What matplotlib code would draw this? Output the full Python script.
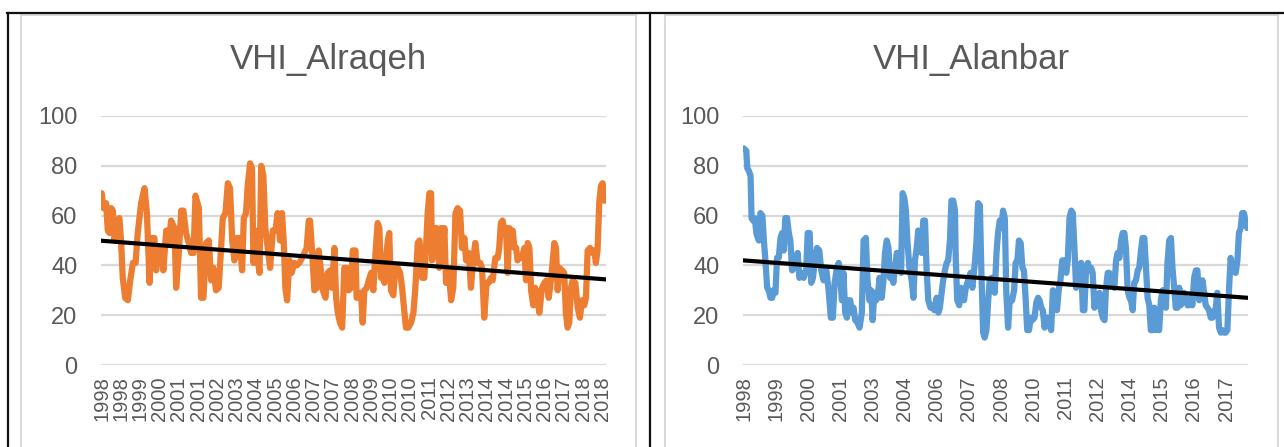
import numpy as np
import matplotlib
matplotlib.use('Agg')
import matplotlib.pyplot as plt
from matplotlib.lines import Line2D

# VHI_Alraqeh: observation time (decimal year) and index value
t_alraqeh = [1998.01, 1998.08, 1998.19, 1998.26, 1998.33, 1998.40, 1998.47, 1998.54, 1998.68, 1998.74,
             1998.81, 1998.88, 1998.98, 1999.09, 1999.19, 1999.30, 1999.41, 1999.50, 1999.64, 1999.78,
             1999.88, 1999.99, 2000.05, 2000.19, 2000.26, 2000.37, 2000.47, 2000.56, 2000.68, 2000.79,
             2000.88, 2001.02, 2001.09, 2001.20, 2001.30, 2001.39, 2001.50, 2001.61, 2001.71, 2001.81,
             2001.89, 2002.03, 2002.12, 2002.22, 2002.33, 2002.44, 2002.54, 2002.63, 2002.74, 2002.85,
             2002.95, 2003.02, 2003.13, 2003.23, 2003.32, 2003.41, 2003.50, 2003.60, 2003.71, 2003.82,
             2003.89, 2003.98, 2004.05, 2004.15, 2004.23, 2004.29, 2004.37, 2004.47, 2004.54, 2004.61,
             2004.70, 2004.78, 2004.88, 2004.98, 2005.09, 2005.20, 2005.29, 2005.39, 2005.47, 2005.54,
             2005.61, 2005.68, 2005.78, 2005.87, 2005.98, 2006.08, 2006.19, 2006.30, 2006.40, 2006.49,
             2006.58, 2006.63, 2006.72, 2006.81, 2006.91, 2006.99, 2007.09, 2007.16, 2007.27, 2007.36,
             2007.46, 2007.54, 2007.64, 2007.71, 2007.78, 2007.87, 2007.96, 2008.05, 2008.15, 2008.23,
             2008.33, 2008.40, 2008.51, 2008.56, 2008.67, 2008.74, 2008.81, 2008.88, 2008.98, 2009.06,
             2009.16, 2009.25, 2009.34, 2009.43, 2009.50, 2009.57, 2009.64, 2009.71, 2009.78, 2009.85,
             2009.91, 2009.98, 2010.08, 2010.16, 2010.26, 2010.36, 2010.44, 2010.54, 2010.60, 2010.70,
             2010.81, 2010.91, 2010.99, 2011.09, 2011.16, 2011.27, 2011.36, 2011.43, 2011.50, 2011.57,
             2011.64, 2011.68, 2011.78, 2011.87, 2011.98, 2012.05, 2012.12, 2012.19, 2012.26, 2012.37,
             2012.47, 2012.56, 2012.65, 2012.74, 2012.84, 2012.92, 2013.02, 2013.09, 2013.20, 2013.29,
             2013.39, 2013.47, 2013.57, 2013.67, 2013.75, 2013.84, 2013.94, 2014.02, 2014.12, 2014.19,
             2014.30, 2014.40, 2014.46, 2014.53, 2014.60, 2014.67, 2014.74, 2014.81, 2014.88, 2014.95,
             2015.02, 2015.09, 2015.16, 2015.22, 2015.29, 2015.40, 2015.50, 2015.57, 2015.64, 2015.71,
             2015.78, 2015.87, 2015.95, 2016.05, 2016.12, 2016.23, 2016.33, 2016.42, 2016.51, 2016.60,
             2016.67, 2016.74, 2016.81, 2016.88, 2016.95, 2017.06, 2017.15, 2017.22, 2017.29, 2017.36,
             2017.43, 2017.50, 2017.61, 2017.71, 2017.80, 2017.89, 2017.98, 2018.05, 2018.12, 2018.22,
             2018.33, 2018.40, 2018.46, 2018.53, 2018.60, 2018.67, 2018.74, 2018.81, 2018.85]
vhi_alraqeh = [69, 63, 65, 54, 53, 63, 62, 50, 58, 59,
               50, 35, 27, 26, 34, 41, 41, 53, 65, 71,
               61, 33, 51, 51, 38, 46, 47, 38, 54, 49,
               58, 55, 31, 45, 62, 62, 53, 49, 45, 45,
               68, 63, 27, 27, 49, 50, 34, 39, 30, 31,
               47, 59, 61, 73, 71, 50, 42, 51, 51, 38,
               59, 61, 72, 81, 79, 41, 54, 42, 37, 80,
               76, 55, 47, 39, 54, 54, 61, 50, 61, 50,
               31, 26, 42, 37, 41, 40, 41, 43, 45, 47,
               58, 58, 45, 30, 31, 46, 37, 30, 27, 37,
               38, 31, 47, 27, 21, 17, 15, 39, 39, 30,
               31, 46, 46, 27, 27, 29, 17, 30, 31, 34,
               37, 30, 45, 57, 55, 35, 36, 33, 43, 50,
               53, 30, 28, 39, 39, 37, 31, 21, 15, 15,
               17, 21, 31, 49, 50, 35, 35, 47, 61, 69,
               69, 42, 55, 55, 39, 55, 43, 55, 33, 38,
               26, 31, 61, 63, 62, 47, 51, 42, 45, 31,
               43, 49, 41, 41, 39, 19, 33, 33, 35, 34,
               43, 43, 47, 57, 58, 54, 55, 37, 55, 54,
               54, 47, 47, 42, 43, 43, 47, 34, 49, 47,
               30, 24, 31, 26, 21, 31, 33, 34, 27, 34,
               41, 49, 47, 30, 39, 38, 37, 21, 15, 17,
               31, 34, 33, 23, 19, 26, 24, 27, 46, 47,
               45, 46, 41, 46, 65, 72, 73, 66, 66]
# linear trendline values at first and last observation
trend_alraqeh = [49.9, 34.4]

# VHI_Alanbar
t_alanbar = [1998.01, 1998.11, 1998.15, 1998.21, 1998.28, 1998.32, 1998.38, 1998.45, 1998.51, 1998.57,
             1998.61, 1998.67, 1998.75, 1998.81, 1998.87, 1998.94, 1999.00, 1999.07, 1999.14, 1999.20,
             1999.27, 1999.33, 1999.40, 1999.47, 1999.53, 1999.60, 1999.66, 1999.73, 1999.80, 1999.86,
             1999.93, 2000.02, 2000.09, 2000.15, 2000.22, 2000.30, 2000.39, 2000.49, 2000.55, 2000.63,
             2000.69, 2000.76, 2000.82, 2000.92, 2001.01, 2001.09, 2001.18, 2001.29, 2001.38, 2001.47,
             2001.55, 2001.62, 2001.71, 2001.78, 2001.84, 2001.91, 2001.97, 2002.04, 2002.11, 2002.17,
             2002.24, 2002.30, 2002.37, 2002.44, 2002.53, 2002.61, 2002.70, 2002.77, 2002.86, 2002.92,
             2003.00, 2003.07, 2003.13, 2003.20, 2003.27, 2003.33, 2003.40, 2003.49, 2003.56, 2003.62,
             2003.69, 2003.76, 2003.82, 2003.89, 2003.95, 2004.02, 2004.09, 2004.18, 2004.26, 2004.32,
             2004.39, 2004.45, 2004.51, 2004.59, 2004.68, 2004.75, 2004.81, 2004.88, 2004.94, 2005.01,
             2005.08, 2005.14, 2005.21, 2005.27, 2005.34, 2005.43, 2005.51, 2005.58, 2005.67, 2005.74,
             2005.80, 2005.87, 2005.93, 2006.00, 2006.07, 2006.13, 2006.20, 2006.26, 2006.33, 2006.40,
             2006.43, 2006.49, 2006.57, 2006.63, 2006.70, 2006.76, 2006.83, 2006.92, 2007.02, 2007.09,
             2007.19, 2007.25, 2007.32, 2007.39, 2007.45, 2007.52, 2007.58, 2007.65, 2007.72, 2007.78,
             2007.85, 2007.91, 2007.98, 2008.05, 2008.11, 2008.18, 2008.24, 2008.31, 2008.38, 2008.44,
             2008.51, 2008.57, 2008.67, 2008.75, 2008.81, 2008.88, 2008.94, 2009.01, 2009.08, 2009.14,
             2009.21, 2009.27, 2009.34, 2009.41, 2009.47, 2009.56, 2009.63, 2009.70, 2009.76, 2009.83,
             2009.89, 2009.96, 2010.05, 2010.13, 2010.22, 2010.29, 2010.36, 2010.45, 2010.53, 2010.59,
             2010.66, 2010.75, 2010.82, 2010.88, 2010.95, 2011.02, 2011.08, 2011.15, 2011.21, 2011.28,
             2011.35, 2011.41, 2011.48, 2011.54, 2011.61, 2011.68, 2011.74, 2011.81, 2011.87, 2011.94,
             2012.01, 2012.07, 2012.14, 2012.20, 2012.27, 2012.34, 2012.40, 2012.47, 2012.53, 2012.60,
             2012.67, 2012.73, 2012.80, 2012.86, 2012.93, 2013.00, 2013.06, 2013.13, 2013.19, 2013.26,
             2013.33, 2013.39, 2013.46, 2013.52, 2013.59, 2013.66, 2013.72, 2013.79, 2013.85, 2013.92,
             2013.99, 2014.05, 2014.12, 2014.18, 2014.25, 2014.32, 2014.38, 2014.45, 2014.51, 2014.58,
             2014.65, 2014.71, 2014.78, 2014.84, 2014.91, 2014.98, 2015.04, 2015.11, 2015.17, 2015.24,
             2015.31, 2015.37, 2015.44, 2015.50, 2015.57, 2015.64, 2015.70, 2015.77, 2015.83, 2015.90,
             2015.97, 2016.03, 2016.10, 2016.16, 2016.23, 2016.30, 2016.36, 2016.43, 2016.49, 2016.56,
             2016.63, 2016.69, 2016.76, 2016.82, 2016.89, 2016.96, 2017.02, 2017.09, 2017.15, 2017.22,
             2017.29, 2017.35, 2017.42, 2017.48, 2017.55, 2017.62, 2017.68, 2017.75, 2017.81, 2017.88,
             2017.95, 2018.01]
vhi_alanbar = [87, 86, 79, 78, 76, 59, 58, 59, 53, 51,
               50, 61, 60, 50, 42, 31, 30, 27, 27, 30,
               29, 43, 43, 51, 53, 46, 59, 59, 53, 50,
               38, 39, 43, 45, 35, 37, 35, 38, 53, 53,
               33, 35, 41, 47, 46, 38, 34, 38, 30, 19,
               19, 33, 39, 41, 35, 26, 37, 21, 19, 26,
               26, 21, 23, 18, 17, 15, 21, 50, 51, 35,
               26, 30, 18, 29, 26, 27, 35, 27, 34, 45,
               50, 47, 35, 38, 33, 39, 45, 45, 37, 69,
               67, 62, 50, 39, 34, 27, 42, 47, 54, 53,
               45, 58, 58, 39, 26, 23, 24, 22, 27, 21,
               23, 29, 34, 38, 41, 42, 50, 66, 66, 62,
               43, 26, 24, 31, 27, 26, 31, 34, 37, 31,
               41, 49, 65, 64, 37, 13, 11, 14, 26, 34,
               35, 35, 29, 45, 53, 58, 55, 62, 59, 29,
               15, 25, 26, 30, 41, 42, 50, 49, 39, 38,
               26, 14, 14, 19, 18, 19, 25, 27, 26, 23,
               22, 15, 19, 18, 14, 30, 23, 22, 31, 34,
               42, 42, 37, 42, 59, 62, 61, 46, 31, 34,
               39, 41, 22, 22, 39, 41, 38, 39, 37, 23,
               27, 24, 29, 22, 19, 18, 31, 37, 37, 33,
               33, 31, 42, 45, 43, 50, 53, 53, 47, 30,
               27, 26, 22, 33, 34, 38, 39, 46, 51, 51,
               39, 27, 24, 14, 14, 23, 14, 15, 14, 26,
               30, 24, 23, 41, 50, 51, 39, 31, 23, 23,
               31, 24, 26, 29, 26, 24, 24, 27, 24, 35,
               38, 38, 26, 27, 34, 29, 24, 23, 22, 19,
               19, 21, 23, 29, 15, 13, 14, 13, 13, 14,
               31, 43, 39, 38, 37, 42, 53, 55, 61, 61,
               57, 55]
trend_alanbar = [42.0, 27.0]

labels_alraqeh = ['1998', '1998', '1999', '2000', '2001', '2001', '2002', '2003', '2004',
                  '2005', '2006', '2007', '2007', '2008', '2009', '2010', '2010', '2011',
                  '2012', '2013', '2014', '2014', '2015', '2016', '2017', '2018', '2018']
labels_alanbar = ['1998', '1999', '2000', '2001', '2003', '2004', '2006', '2007',
                  '2008', '2010', '2011', '2012', '2014', '2015', '2016', '2017']

GRAY_TXT = '#595959'
GRID = '#D9D9D9'
FONT = 'Liberation Sans'

W, H = 1284, 447
fig = plt.figure(figsize=(W / 100, H / 100), dpi=100)


def px(x0, y0, x1, y1):
    # pixel box (top-left origin) -> figure fraction rect
    return [x0 / W, 1 - y1 / H, (x1 - x0) / W, (y1 - y0) / H]


def draw_chart(rect, t, v, trend, color, labels, tick_end, title, title_x):
    ax = fig.add_axes(rect)
    ax.plot(t, v, color=color, lw=4.5, solid_joinstyle='round', solid_capstyle='round', zorder=3)
    # linear trendline
    ax.plot([t[0], t[-1]], trend, color='black', lw=3.0, zorder=4)

    ax.set_ylim(0, 100)
    ax.set_xlim(t[0] - 0.03, t[-1] + 0.03)
    ax.set_yticks(range(0, 101, 20))
    ax.set_xticks(np.linspace(t[0], tick_end, len(labels)))
    ax.set_xticklabels(labels, rotation=90)
    ax.yaxis.grid(True, color=GRID, lw=1.6)
    ax.set_axisbelow(True)
    for s in ax.spines.values():
        s.set_visible(False)
    ax.tick_params(axis='both', length=0, colors=GRAY_TXT)
    ax.tick_params(axis='x', labelsize=14.5, pad=8)
    ax.tick_params(axis='y', labelsize=17, pad=17)
    for lab in ax.get_xticklabels() + ax.get_yticklabels():
        lab.set_fontfamily(FONT)
    fig.text(title_x / W, 1 - 60 / H, title, ha='center', va='center',
             fontsize=25, color=GRAY_TXT, family=FONT)
    return ax


draw_chart(px(101, 116, 606, 365), t_alraqeh, vhi_alraqeh, trend_alraqeh, '#ED7D31',
           labels_alraqeh, 2018.73, 'VHI_Alraqeh', 328)
draw_chart(px(743, 116, 1248, 365), t_alanbar, vhi_alanbar, trend_alanbar, '#5B9BD5',
           labels_alanbar, 2017.17, 'VHI_Alanbar', 971)

# chart area frames (light gray) and table borders (black)
def hline(y, x0, x1, c, lw):
    fig.add_artist(Line2D([x0 / W, x1 / W], [1 - y / H, 1 - y / H], color=c, lw=lw))


def vline(x, y0, y1, c, lw):
    fig.add_artist(Line2D([x / W, x / W], [1 - y0 / H, 1 - y1 / H], color=c, lw=lw))


hline(15, 21, 636, GRID, 1.5)
vline(21, 15, H, GRID, 1.5)
vline(636, 15, H, GRID, 1.5)
hline(15, 665, 1278, GRID, 1.5)
vline(665, 15, H, GRID, 1.5)
vline(1278, 15, H, GRID, 1.5)

hline(13, 7, W, '#111111', 1.6)
vline(8, 13, H, '#111111', 1.6)
vline(650, 13, H, '#111111', 1.6)

fig.savefig('out.png', dpi=100)
